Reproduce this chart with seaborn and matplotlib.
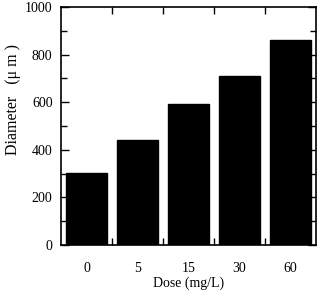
import matplotlib
matplotlib.use("Agg")
import matplotlib.pyplot as plt
import seaborn as sns
import pandas as pd
from matplotlib.ticker import MultipleLocator, FixedLocator

doses = ["0", "5", "15", "30", "60"]
diameters = [302, 441, 592, 710, 861]

df = pd.DataFrame({"Dose": doses, "Diameter": diameters})

sns.set_theme(style="white")
plt.rcParams["font.family"] = ["Liberation Serif", "DejaVu Serif"]

fig = plt.figure(figsize=(3.19, 2.92), dpi=100)
ax = fig.add_axes([0.191, 0.161, 0.800, 0.815])

sns.barplot(data=df, x="Dose", y="Diameter", order=doses, color="black",
            saturation=1, width=0.8, ax=ax, edgecolor="black")

ax.set_xlim(-0.5, 4.5)
ax.set_ylim(0, 1000)
ax.yaxis.set_major_locator(MultipleLocator(200))
ax.yaxis.set_minor_locator(MultipleLocator(100))
ax.xaxis.set_minor_locator(FixedLocator([0.5, 1.5, 2.5, 3.5]))

ax.tick_params(axis="x", which="major", length=0, pad=12, labelsize=10, colors="black")
ax.tick_params(axis="x", which="minor", direction="in", length=5, width=1,
               top=True, bottom=True, colors="black")
ax.tick_params(axis="y", which="major", direction="in", length=6, width=1,
               left=True, right=True, labelsize=10, pad=6, colors="black")
ax.tick_params(axis="y", which="minor", direction="in", length=4, width=1,
               left=True, right=True, colors="black")

for s in ax.spines.values():
    s.set_visible(True)
    s.set_color("black")
    s.set_linewidth(1.2)

ax.set_xlabel("Dose (mg/L)", fontsize=10, labelpad=1, color="black")
ax.set_ylabel("Diameter   (\u03bc m )", fontsize=11.5, color="black")
ax.yaxis.set_label_coords(-0.155, 0.61)

fig.savefig("out.png", dpi=100)
